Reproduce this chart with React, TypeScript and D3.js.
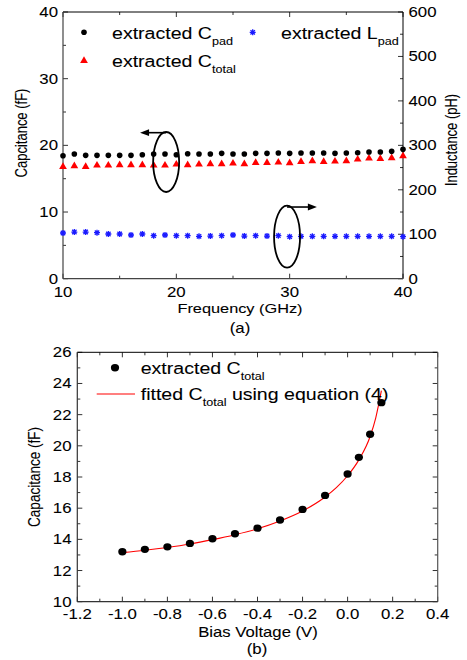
import React from "react";
import * as d3 from "d3";

// ---------- Data: panel (a) ----------
const freqGHz = d3.range(10, 41, 1);
const cPad = [18.45, 18.7, 18.5, 18.5, 18.5, 18.5, 18.5, 18.6, 18.7, 18.7, 18.6, 18.75, 18.7, 18.7, 18.8, 18.7, 18.7, 18.8, 18.8, 18.85, 18.8, 18.85, 18.85, 18.85, 18.8, 18.85, 18.9, 19.0, 19.0, 19.1, 19.4];
const cTotal = [16.8, 16.9, 16.8, 17.0, 17.0, 17.05, 17.05, 17.05, 17.0, 17.0, 17.15, 17.05, 17.15, 17.2, 17.2, 17.3, 17.2, 17.4, 17.4, 17.45, 17.35, 17.55, 17.65, 17.55, 17.6, 17.65, 17.9, 18.05, 18.0, 18.1, 18.4];
const lPad = [102.8, 105, 105, 103.5, 100.6, 100.6, 98.3, 100.6, 96.8, 98.3, 96.8, 96.8, 95.3, 96, 96.8, 98.3, 96, 96.8, 96, 96.8, 94.5, 95.3, 95.3, 95.3, 95.3, 95.3, 95.3, 95.3, 95.3, 95.3, 94.5];
const freqTicks = [10, 20, 30, 40];
const capTicksA = [0, 10, 20, 30, 40];
const indTicks = [0, 100, 200, 300, 400, 500, 600];

// ---------- Data: panel (b) ----------
const biasV = [-1.0, -0.9, -0.8, -0.7, -0.6, -0.5, -0.4, -0.3, -0.2, -0.1, 0.0, 0.05, 0.1, 0.15];
const cTotalB = [13.2, 13.36, 13.52, 13.74, 14.04, 14.36, 14.72, 15.24, 15.92, 16.82, 18.19, 19.26, 20.74, 22.77];
const fitV = [-1.0, -0.9, -0.8, -0.7, -0.6, -0.5, -0.4, -0.3, -0.2, -0.1, -0.05, 0.0, 0.05, 0.1, 0.125, 0.15];
const fitC = [13.15, 13.3, 13.48, 13.7, 13.98, 14.3, 14.68, 15.18, 15.82, 16.72, 17.32, 18.08, 19.1, 20.6, 21.8, 23.54];
const biasTicks = [-1.2, -1.0, -0.8, -0.6, -0.4, -0.2, 0.0, 0.2, 0.4];
const capTicksB = [10, 12, 14, 16, 18, 20, 22, 24, 26];

const FONT = "'Liberation Sans', Arial, Helvetica, sans-serif";
const SX = 1.2; // horizontal stretch of the reference

function T({ x, y, size, anchor = "start", rotate = false, children, fill = "#000" }: any) {
  return (
    <text
      transform={`translate(${x},${y}) scale(${SX},1)${rotate ? " rotate(-90)" : ""}`}
      fontSize={size}
      textAnchor={anchor}
      fontFamily={FONT}
      fill={fill}
      stroke={fill}
      strokeWidth={0.08}
    >
      {children}
    </text>
  );
}

const asteriskPath = "M-3,0H3M0,-3V3M-2.2,-2.2L2.2,2.2M-2.2,2.2L2.2,-2.2";
const triPath = d3.symbol(d3.symbolTriangle, 26)() as string;

function PanelA() {
  const L = 63, R = 403, Tp = 12, B = 278.7;
  const x = d3.scaleLinear().domain([10, 40]).range([L, R]);
  const y = d3.scaleLinear().domain([0, 40]).range([B, Tp]);
  const y2 = d3.scaleLinear().domain([0, 600]).range([B, Tp]);
  const xMinor = d3.range(10, 41, 5);
  const yMinor = d3.range(0, 41, 5);
  const y2Minor = d3.range(0, 601, 50);
  const axisCol = "#333";
  return (
    <g>
      {/* ticks */}
      {xMinor.map((v) => {
        const len = v % 10 === 0 ? 5 : 3;
        return (
          <g key={"xt" + v}>
            <line x1={x(v)} x2={x(v)} y1={B} y2={B - len} stroke={axisCol} />
            <line x1={x(v)} x2={x(v)} y1={Tp} y2={Tp + len} stroke={axisCol} />
          </g>
        );
      })}
      {yMinor.map((v) => (
        <line key={"yt" + v} x1={L} x2={L + (v % 10 === 0 ? 5 : 3)} y1={y(v)} y2={y(v)} stroke={axisCol} />
      ))}
      {y2Minor.map((v) => (
        <line key={"y2t" + v} x1={R} x2={R - (v % 100 === 0 ? 5 : 3)} y1={y2(v)} y2={y2(v)} stroke={axisCol} />
      ))}
      <line x1={L} x2={R} y1={Tp} y2={Tp} stroke="#000" />
      <line x1={R} x2={R} y1={Tp} y2={B} stroke="#000" />
      <line x1={L} x2={L} y1={Tp} y2={B} stroke="#444" strokeWidth={1.2} />
      <line x1={L} x2={R} y1={B} y2={B} stroke="#444" strokeWidth={1.2} />

      {/* tick labels */}
      {freqTicks.map((v) => (
        <T key={"xl" + v} x={x(v)} y={296.5} size={14} anchor="middle">{v}</T>
      ))}
      {capTicksA.map((v) => (
        <T key={"yl" + v} x={58} y={y(v) + 5} size={14} anchor="end">{v}</T>
      ))}
      {indTicks.map((v) => (
        <T key={"y2l" + v} x={408.5} y={y2(v) + 5} size={14} anchor="start">{v}</T>
      ))}
      <T x={240} y={313} size={13.6} anchor="middle">Frequency (GHz)</T>
      <T x={27} y={133} size={13} anchor="middle" rotate>Capcitance (fF)</T>
      <T x={457} y={140} size={13} anchor="middle" rotate>Inductance (pH)</T>
      <T x={240} y={332.5} size={14} anchor="middle">(a)</T>

      {/* data */}
      {freqGHz.map((f, i) => (
        <path key={"l" + i} d={asteriskPath} transform={`translate(${x(f)},${y2(lPad[i])})`} stroke="#1a1aff" strokeWidth={1.3} fill="none" />
      ))}
      {freqGHz.map((f, i) => (
        <path key={"t" + i} d={triPath} transform={`translate(${x(f)},${y(cTotal[i])})`} fill="#ff0000" />
      ))}
      {freqGHz.map((f, i) => (
        <circle key={"c" + i} cx={x(f)} cy={y(cPad[i])} r={2.8} fill="#000" />
      ))}

      {/* annotations */}
      <ellipse cx={x(19.1)} cy={y(17.5)} rx={13} ry={30} fill="none" stroke="#000" strokeWidth={1.8} />
      <line x1={x(19.1)} x2={x(17.4)} y1={y(21.9)} y2={y(21.9)} stroke="#000" strokeWidth={1.6} />
      <path d={`M${x(16.8)},${y(21.9)}l9,-3.4v6.8z`} fill="#000" />
      <ellipse cx={x(29.77)} cy={y(6.3)} rx={13} ry={31} fill="none" stroke="#000" strokeWidth={1.8} />
      <line x1={x(29.77)} x2={x(31.8)} y1={y(10.75)} y2={y(10.75)} stroke="#000" strokeWidth={1.6} />
      <path d={`M${x(32.4)},${y(10.75)}l-9,-3.4v6.8z`} fill="#000" />

      {/* legend */}
      <circle cx={84} cy={32.3} r={2.8} fill="#000" />
      <T x={112} y={38.5} size={16.3}>
        extracted C<tspan fontSize={10.5} dy={6}>pad</tspan>
      </T>
      <path d={asteriskPath} transform="translate(252.7,32.3)" stroke="#1a1aff" strokeWidth={1.3} fill="none" />
      <T x={281} y={38.5} size={16.3}>
        extracted L<tspan fontSize={10.5} dy={6}>pad</tspan>
      </T>
      <path d={triPath} transform="translate(84,60.7)" fill="#ff0000" />
      <T x={112} y={67} size={16.3}>
        extracted C<tspan fontSize={10.5} dy={6}>total</tspan>
      </T>
    </g>
  );
}

function PanelB() {
  const L = 77.3, R = 437.7, Tp = 352.3, B = 601.7;
  const x = d3.scaleLinear().domain([-1.2, 0.4]).range([L, R]);
  const y = d3.scaleLinear().domain([10, 26]).range([B, Tp]);
  const xMinor = d3.range(-12, 5, 1).map((v) => v / 10);
  const yMinor = d3.range(10, 27, 1);
  const line = d3
    .line<number>()
    .x((_, i) => x(fitV[i]))
    .y((d) => y(d))
    .curve(d3.curveMonotoneX);
  const axisCol = "#333";
  return (
    <g>
      {xMinor.map((v, i) => {
        const len = i % 2 === 0 ? 5 : 3;
        return (
          <g key={"xt" + i}>
            <line x1={x(v)} x2={x(v)} y1={B} y2={B - len} stroke={axisCol} />
            <line x1={x(v)} x2={x(v)} y1={Tp} y2={Tp + len} stroke={axisCol} />
          </g>
        );
      })}
      {yMinor.map((v) => {
        const len = v % 2 === 0 ? 5 : 3;
        return (
          <g key={"yt" + v}>
            <line x1={L} x2={L + len} y1={y(v)} y2={y(v)} stroke={axisCol} />
            <line x1={R} x2={R - len} y1={y(v)} y2={y(v)} stroke={axisCol} />
          </g>
        );
      })}
      <line x1={L} x2={R} y1={Tp} y2={Tp} stroke="#000" />
      <line x1={R} x2={R} y1={Tp} y2={B} stroke="#555" strokeWidth={1.2} />
      <line x1={L} x2={L} y1={Tp} y2={B} stroke="#333" strokeWidth={1.2} />
      <line x1={L} x2={R} y1={B} y2={B} stroke="#333" strokeWidth={1.2} />

      {biasTicks.map((v) => (
        <T key={"xl" + v} x={x(v)} y={619.3} size={14} anchor="middle">{v.toFixed(1)}</T>
      ))}
      {capTicksB.map((v) => (
        <T key={"yl" + v} x={71.5} y={y(v) + 5} size={14} anchor="end">{v}</T>
      ))}
      <T x={258} y={636.5} size={13.9} anchor="middle">Bias Voltage (V)</T>
      <T x={40} y={477} size={13.5} anchor="middle" rotate>Capacitance (fF)</T>
      <T x={257} y={654} size={14} anchor="middle">(b)</T>

      <path d={line(fitC) as string} fill="none" stroke="#ff0000" strokeWidth={1.1} />
      {biasV.map((v, i) => (
        <ellipse key={"p" + i} cx={x(v)} cy={y(cTotalB[i])} rx={4.1} ry={3.7} fill="#000" />
      ))}

      {/* legend */}
      <ellipse cx={115} cy={367.7} rx={4.1} ry={3.7} fill="#000" />
      <T x={140.7} y={374} size={16.3}>
        extracted C<tspan fontSize={10.5} dy={5.5}>total</tspan>
      </T>
      <line x1={96.7} x2={135} y1={394} y2={394} stroke="#ff0000" strokeWidth={1.1} />
      <T x={140.7} y={400} size={16.3}>
        fitted C<tspan fontSize={10.5} dy={5.5}>total</tspan>
        <tspan dy={-5.5}> using equation (4)</tspan>
      </T>
    </g>
  );
}

export default function App() {
  return (
    <svg
      width={467}
      height={660}
      viewBox="0 0 467 660"
      style={{ position: "absolute", left: 0, top: 0, background: "#fff" }}
    >
      <rect width={467} height={660} fill="#fff" />
      <PanelA />
      <PanelB />
    </svg>
  );
}
